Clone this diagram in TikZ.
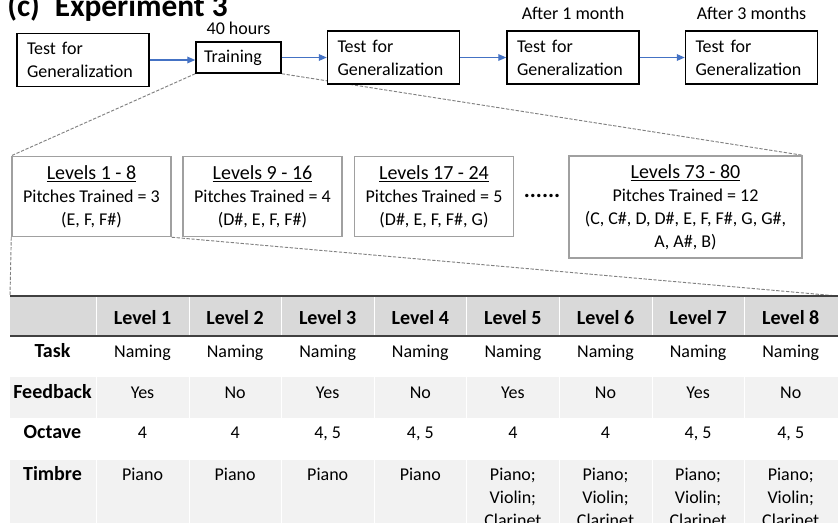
\documentclass[tikz,border=0pt]{standalone}
\usepackage{fontspec}
\setmainfont{Carlito}
\usetikzlibrary{arrows.meta, positioning, backgrounds}
\usepackage{xcolor}
\definecolor{bluastro}{HTML}{4472C4}
\definecolor{grigiotesta}{HTML}{D9D9D9}
\definecolor{grigioriga}{HTML}{F2F2F2}
\definecolor{grigiobordo}{HTML}{A0A0A0}
\definecolor{grigiolinea}{HTML}{404040}
\newcommand{\livtitolo}[1]{{\fontsize{15}{17.25}\selectfont\underline{#1}}}

\begin{document}
\begin{tikzpicture}[
  x=0.75pt, y=-0.75pt,
  font=\fontsize{13.5}{17.25}\selectfont,
  prova/.style={draw=black, fill=white, line width=1.1pt, align=left,
                text width=84pt, inner xsep=7.5pt, minimum height=40pt},
  corso/.style={draw=black, fill=white, line width=1.1pt, align=left,
                text width=51.75pt, inner xsep=6pt, minimum height=23.25pt},
  nota/.style={inner sep=4pt},
  livello/.style={draw=grigiobordo, fill=white, line width=1.1pt, align=center,
                  minimum width=119.25pt, minimum height=60pt, inner sep=2pt},
  freccia/.style={draw=bluastro, line width=0.9pt, -{Triangle[length=6pt,width=5pt]}},
  zoomlinea/.style={draw=gray, line width=0.7pt, dash pattern=on 2.5pt off 1.2pt},
  testa/.style={anchor=base, inner sep=0pt, font=\fontsize{15}{17.25}\selectfont\bfseries},
  cella/.style={anchor=base, align=center, inner sep=0pt}
]
\useasboundingbox (0,0) rectangle (838,522);

\node[anchor=base west, inner sep=0pt, font=\fontsize{23.5}{28}\selectfont\bfseries]
  (titolo) at (7,16) {(c)\hspace{6pt} Experiment 3};

% fasi dell'esperimento
\node[prova] (pre) at (83,60) {Test for\\Generalization};
\node[corso] (train) at (238.5,57.5) {Training};
\node[prova] (post) at (393.5,57.5) {Test for\\Generalization};
\node[prova] (mese1) at (573,57.5) {Test for\\Generalization};
\node[prova] (mese3) at (751.5,57.5) {Test for\\Generalization};
\node[nota, above=1pt of train] (ore) {40 hours};
\node[nota, above=3.5pt of mese1] (dopo1) {After 1 month};
\node[nota, above=3.5pt of mese3] (dopo3) {After 3 months};

\draw[freccia] (pre.east) -- (pre.east -| train.west);
\draw[freccia] (train) -- (post);
\draw[freccia] (post) -- (mese1);
\draw[freccia] (mese1) -- (mese3);

% livelli
\node[livello] (liv1) at (91.5,196.5) {\livtitolo{Levels 1 - 8}\\Pitches Trained = 3\\(E, F, F\#)};
\node[livello] (liv2) at (262.5,196.5) {\livtitolo{Levels 9 - 16}\\Pitches Trained = 4\\(D\#, E, F, F\#)};
\node[livello] (liv3) at (434,196.5) {\livtitolo{Levels 17 - 24}\\Pitches Trained = 5\\(D\#, E, F, F\#, G)};
\node[livello, minimum width=174.75pt, minimum height=76.5pt] (liv4) at (685.5,207)
  {\livtitolo{Levels 73 - 80}\\Pitches Trained = 12\\(C, C\#, D, D\#, E, F, F\#, G, G\#,\\A, A\#, B)};
\node[font=\fontsize{17}{20}\selectfont\bfseries] (puntini) at (542,196) {......};

\coordinate (tabNO) at (10,296);
\coordinate (tabNE) at (838,296);

\begin{scope}[on background layer]
  \draw[zoomlinea] (train.south west) -- (liv1.north west);
  \draw[zoomlinea] (train.south east) -- (liv4.north east);
  \draw[zoomlinea] (liv1.south west) -- (tabNO);
  \draw[zoomlinea] (liv1.south east) -- (tabNE);
\end{scope}

% tabella
\fill[grigiotesta] (tabNO) rectangle (838,336);
\fill[grigioriga] (10,377) rectangle (838,418);
\fill[grigioriga] (10,460) rectangle (838,530);
\foreach \k in {0,...,7}
  \draw[white, line width=0.4pt] ({96.2+92.6*\k},296) -- ({96.2+92.6*\k},530);
\draw[grigiolinea, line width=1.5pt] (tabNO) -- (tabNE);
\draw[grigiolinea, line width=1.5pt] (10,336) -- (838,336);

\foreach \r/\y in {Task/357, Feedback/398, Octave/438, Timbre/480}
  \node[testa] (r\r) at (52.5,\y) {\r};

\foreach \i/\fb/\ott/\tim in {1/Yes/4/Piano, 2/No/4/Piano, 3/Yes/{4, 5}/Piano, 4/No/{4, 5}/Piano,
    5/Yes/4/{Piano;\\Violin;\\Clarinet}, 6/No/4/{Piano;\\Violin;\\Clarinet},
    7/Yes/{4, 5}/{Piano;\\Violin;\\Clarinet}, 8/No/{4, 5}/{Piano;\\Violin;\\Clarinet}} {
  \node[testa] (l\i) at ({142.5+92.6*(\i-1)},324) {Level \i};
  \node[cella] (c\i) at ({142.5+92.6*(\i-1)},357) {Naming};
  \node[cella] (f\i) at ({142.5+92.6*(\i-1)},398) {\fb};
  \node[cella] (o\i) at ({142.5+92.6*(\i-1)},438) {\ott};
  \node[cella, anchor=north] (t\i) at ({142.5+92.6*(\i-1)},468) {\tim};
}

\end{tikzpicture}
\end{document}
